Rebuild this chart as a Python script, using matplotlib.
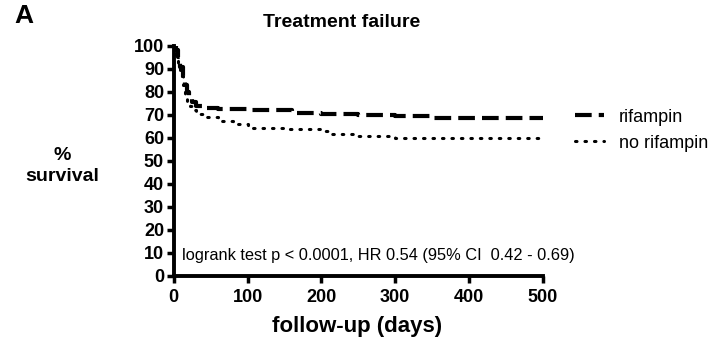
import numpy as np
import matplotlib.pyplot as plt

plt.rcParams['font.family'] = ['Liberation Sans', 'DejaVu Sans']

# Kaplan-Meier style step curves
days_rif = [0, 3, 6, 9, 12, 15, 18, 21, 25, 30, 40, 60, 100, 160, 200, 250, 300, 350, 500]
surv_rif = [100, 98, 95, 91, 87, 83, 80, 77, 75.5, 74, 73, 72.5, 72, 71, 70.5, 70, 69.5, 68.5, 68.5]

days_norif = [0, 3, 6, 9, 12, 15, 18, 22, 26, 30, 40, 60, 80, 100, 150, 200, 215, 250, 300, 500]
surv_norif = [100, 95, 91, 87, 83, 79, 76, 74, 72, 70.5, 69, 67.5, 66, 64.5, 64, 63, 61.5, 61, 60, 59.5]

xticks = [0, 100, 200, 300, 400, 500]
yticks = list(range(0, 101, 10))

fig = plt.figure(figsize=(7.15, 3.45), dpi=100)
ax = fig.add_axes([0.243, 0.2, 0.516, 0.667])

ax.step(days_rif, surv_rif, where='post', color='black', lw=3.0,
        linestyle=(0, (4, 1.7)), label='rifampin')
ax.step(days_norif, surv_norif, where='post', color='black', lw=2.2,
        linestyle=(0, (0.5, 2.6)), dash_capstyle='round', label='no rifampin')

ax.set_xlim(0, 500)
ax.set_ylim(0, 100)
ax.set_xticks(xticks)
ax.set_yticks(yticks)
for s in ['top', 'right']:
    ax.spines[s].set_visible(False)
for s in ['left', 'bottom']:
    ax.spines[s].set_linewidth(2.8)
ax.tick_params(width=2.5, length=5, labelsize=13, pad=2)
ax.tick_params(axis='x', pad=4)
for lab in ax.get_xticklabels() + ax.get_yticklabels():
    lab.set_fontweight('bold')

ax.text(11, 9, 'logrank test p < 0.0001, HR 0.54 (95% CI  0.42 - 0.69)',
        fontsize=11.8, va='center', ha='left')

fig.text(0.478, 0.935, 'Treatment failure', fontsize=14, fontweight='bold',
         ha='center', va='center')
fig.text(0.02, 0.955, 'A', fontsize=19, fontweight='bold', va='center')
fig.text(0.087, 0.52, '%\nsurvival', fontsize=14, fontweight='bold',
         ha='center', va='center', linespacing=1.3)
fig.text(0.5, 0.055, 'follow-up (days)', fontsize=16, fontweight='bold',
         ha='center', va='center')

fig.legend(loc='center left', bbox_to_anchor=(0.782, 0.623), frameon=False,
           fontsize=13, handlelength=1.6, handletextpad=0.8, labelspacing=0.5)

fig.savefig('out.png', dpi=100)
